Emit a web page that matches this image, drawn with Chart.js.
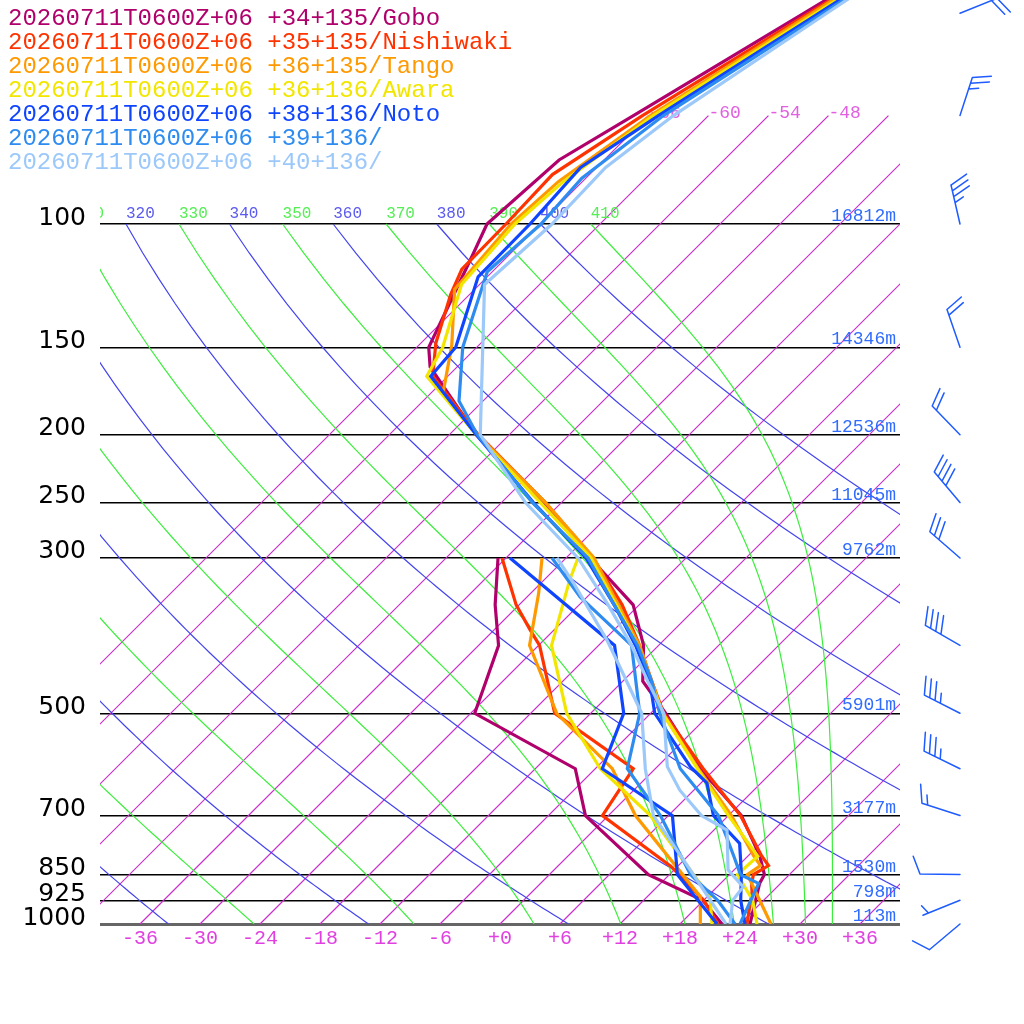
<!DOCTYPE html>
<html><head><meta charset="utf-8">
<script src="https://cdn.jsdelivr.net/npm/chart.js@4.4.1/dist/chart.umd.min.js"></script>
<style>html,body{margin:0;padding:0;background:#fff;}#wrap{width:1024px;height:1024px;}</style>
</head><body><div id="wrap"><canvas id="c" width="1024" height="1024"></canvas></div>
<script>
// ---------------- data ----------------
const stationLabels = ['20260711T0600Z+06 +34+135/Gobo','20260711T0600Z+06 +35+135/Nishiwaki','20260711T0600Z+06 +36+135/Tango','20260711T0600Z+06 +36+136/Awara','20260711T0600Z+06 +38+136/Noto','20260711T0600Z+06 +39+136/','20260711T0600Z+06 +40+136/'];
const stationColors = ['#b0006b','#ff3300','#ff9900','#f2e600','#0f45ff','#2e8cf0','#9cc8fa'];

const gobo_p  = [1000,875,850,800,700,600,500,450,400,350,300,250,200,160,150,111,100,81,70,50,30];
const gobo_t  = [25.0,21.9,21.5,19.2,13.3,4.5,-4.5,-10.0,-13.5,-18.6,-27.6,-37.8,-51.3,-62.7,-64.8,-69.6,-71.3,-70.5,-67.5,-60.7,-50.3];
const gobo_dp = [1000,925,850,700,600,500,400,350,300];
const gobo_td = [22.2,17.9,9.9,-2.3,-8.0,-23.6,-28.0,-32.4,-36.8];

const nish_p  = [1000,900,875,850,825,800,700,600,500,450,400,350,300,250,200,165,148,126,116,100,85,70,50,30];
const nish_t  = [24.7,22.0,21.1,20.4,21.0,19.4,13.2,4.8,-4.7,-9.1,-13.9,-19.7,-27.3,-37.6,-51.1,-61.5,-64.5,-67.9,-69.3,-69.4,-69.7,-66.6,-60.2,-50.4];
const nish_dp = [1000,925,828,700,600,500,400,380,350,300];
const nish_td = [21.8,18.0,11.4,-0.6,-2.2,-15.6,-23.9,-26.4,-30.3,-36.4];

const tango_p  = [1000,925,875,850,825,800,700,600,500,450,400,350,300,250,200,175,149,124,100,87,70,50,30];
const tango_t  = [27.1,23.6,21.1,19.8,20.2,18.6,12.3,4.3,-4.8,-9.1,-13.9,-20.1,-27.2,-37.6,-51.2,-58.7,-62.7,-68.0,-68.9,-68.4,-65.8,-59.9,-50.9];
const tango_dp = [1000,914,700,600,500,400,337,300];
const tango_td = [20.0,17.3,2.7,-4.3,-15.4,-24.9,-29.2,-32.4];

const awara_p  = [1000,925,850,800,700,600,500,450,400,350,300,250,200,165,150,122,100,87,70,50,30];
const awara_t  = [25.7,22.9,18.8,19.0,12.0,4.2,-4.8,-9.2,-14.1,-20.3,-27.5,-38.1,-51.3,-62.1,-63.4,-67.8,-68.5,-67.9,-65.5,-59.5,-50.4];
const awara_dp = [1000,915,700,600,500,400,323,300];
const awara_td = [21.2,18.3,4.2,-5.5,-14.4,-22.7,-27.4,-28.8];

const noto_p  = [1000,925,850,767,700,629,596,500,450,400,350,300,250,200,165,150,119,100,83,70,50,30];
const noto_t  = [24.5,21.7,19.2,15.9,10.5,6.6,3.3,-5.6,-9.3,-14.3,-20.5,-28.0,-38.8,-51.3,-61.7,-62.1,-66.9,-67.0,-67.6,-65.0,-59.2,-50.4];
const noto_dp = [1000,850,700,600,500,400,300];
const noto_td = [21.7,12.8,6.4,-5.3,-8.7,-16.4,-35.6];

const p39_p  = [1000,875,850,800,700,600,500,450,400,350,300,250,200,179,150,117,100,86,70,50,30];
const p39_t  = [24.0,21.8,19.1,16.6,11.0,2.5,-5.1,-9.1,-14.1,-20.5,-27.8,-38.9,-51.2,-56.4,-61.4,-66.5,-65.9,-66.4,-64.5,-58.8,-50.1];
const p39_dp = [1000,925,850,700,600,500,400,341,300];
const p39_td = [23.5,19.4,14.1,5.2,-2.8,-7.1,-14.7,-24.7,-31.4];

const p40_p  = [1000,925,885,837,734,700,644,596,500,450,400,350,300,250,200,122,100,83,70,50,30];
const p40_t  = [23.0,20.9,20.6,17.4,13.3,9.3,4.6,1.0,-4.7,-9.5,-14.7,-21.1,-28.8,-39.6,-50.9,-65.5,-64.8,-65.1,-63.5,-58.4,-50.6];
const p40_dp = [1000,850,700,600,500,420,393,326,300];
const p40_td = [22.6,14.4,4.5,-1.0,-6.9,-14.7,-17.7,-26.7,-30.9];

const pressureTicks = [100,150,200,250,300,500,700,850,925,1000];
const heightP = [100,150,200,250,300,500,700,850,925,1000];
const heightM = [16812,14346,12536,11045,9762,5901,3177,1530,798,113];
const tempTicks = [-36,-30,-24,-18,-12,-6,0,6,12,18,24,30,36];
const isotherms = [-66,-60,-54,-48,-42,-36,-30,-24,-18,-12,-6,0,6,12,18,24,30,36];
const dryAdiabats = [240,260,280,300,320,340,360,380,400];
const moistAdiabats = [250,270,290,310,330,350,370,390,410];
const windP   = [1000,925,850,700,600,500,400,300,250,200,150,100,70,50];
const windDir = [230,248,271,288,296,297,300,311,320,316,341,347,18,68];
const windKt  = [10,5,10,15,35,35,40,30,40,20,20,35,25,20];

// ---------------- helpers ----------------
const SKEW = 70;            // deg C shift per pressure decade
const P_TOP = 1000*Math.pow(10,-924/700);
const ISO_TOP = 70;
const skew = (T,p) => T + SKEW*Math.log10(1000/p);

function satMix(TK,p){const Tc=TK-273.15;const es=6.112*Math.exp(17.67*Tc/(Tc+243.5));if(es>=0.5*p)return null;return 622*es/(p-es);}
function thetaE(TK,p){const r=satMix(TK,p);if(r===null)return Infinity;return TK*Math.pow(1000/p,0.2854*(1-0.00028*r))*Math.exp((3.376/TK-0.00254)*r*(1+0.00081*r));}
function moistT(te,p){let lo=150,hi=340;for(let i=0;i<50;i++){const m=(lo+hi)/2;if(thetaE(m,p)>te)hi=m;else lo=m;}return (lo+hi)/2-273.15;}
const dryT = (th,p) => th*Math.pow(p/1000,0.2857)-273.15;

const series = [
  {tp:gobo_p,t:gobo_t,dp:gobo_dp,td:gobo_td},
  {tp:nish_p,t:nish_t,dp:nish_dp,td:nish_td},
  {tp:tango_p,t:tango_t,dp:tango_dp,td:tango_td},
  {tp:awara_p,t:awara_t,dp:awara_dp,td:awara_td},
  {tp:noto_p,t:noto_t,dp:noto_dp,td:noto_td},
  {tp:p39_p,t:p39_t,dp:p39_dp,td:p39_td},
  {tp:p40_p,t:p40_t,dp:p40_dp,td:p40_td}
];
const datasets = [];
series.forEach((s,i)=>{
  const common = {borderColor:stationColors[i],backgroundColor:stationColors[i],borderWidth:3.2,pointRadius:0,showLine:true,fill:false,tension:0,order:20-i};
  datasets.push(Object.assign({label:stationLabels[i]+' T',data:s.tp.map((p,k)=>({x:skew(s.t[k],p),y:p}))},common));
  datasets.push(Object.assign({label:stationLabels[i]+' Td',data:s.dp.map((p,k)=>({x:skew(s.td[k],p),y:p}))},common));
});

function drawBarb(ctx,bx,by,dir,spd){
  const a=dir*Math.PI/180, ux=Math.sin(a), uy=-Math.cos(a), L=40;
  const tx=bx+ux*L, ty=by+uy*L;
  ctx.beginPath(); ctx.moveTo(bx,by); ctx.lineTo(tx,ty);
  const th=Math.atan2(uy,ux)+68*Math.PI/180, fx=Math.cos(th), fy=Math.sin(th);
  let s=Math.round(spd/5)*5, pos=0; const step=6;
  while(s>=10){const px=tx-ux*pos,py=ty-uy*pos;ctx.moveTo(px,py);ctx.lineTo(px+fx*19,py+fy*19);pos+=step;s-=10;}
  if(s>=5){if(pos===0)pos=step;const px=tx-ux*pos,py=ty-uy*pos;ctx.moveTo(px,py);ctx.lineTo(px+fx*10,py+fy*10);}
  ctx.stroke();
}

const skewPlugin = {
  id:'skewBg',
  beforeDatasetsDraw(chart){
    const {ctx,chartArea:a,scales:{x:xs,y:ys}}=chart;
    const X=(T,p)=>xs.getPixelForValue(skew(T,p)), Y=p=>ys.getPixelForValue(p);
    ctx.save();
    ctx.beginPath(); ctx.rect(a.left,a.top,a.right-a.left,a.bottom-a.top); ctx.clip();
    ctx.lineWidth=1.2;
    ctx.strokeStyle='#cc2ccc';
    for(const T of isotherms){ctx.beginPath();ctx.moveTo(X(T,1000),Y(1000));ctx.lineTo(X(T,ISO_TOP),Y(ISO_TOP));ctx.stroke();}
    ctx.strokeStyle='#4444ee';
    for(const th of dryAdiabats){ctx.beginPath();for(let p=1000;p>=100;p-=10){const T=dryT(th,p);if(p===1000)ctx.moveTo(X(T,p),Y(p));else ctx.lineTo(X(T,p),Y(p));}ctx.stroke();}
    ctx.strokeStyle='#3cee3c';
    for(const te of moistAdiabats){ctx.beginPath();for(let p=1000;p>=100;p-=10){const T=moistT(te,p);if(p===1000)ctx.moveTo(X(T,p),Y(p));else ctx.lineTo(X(T,p),Y(p));}ctx.stroke();}
    ctx.font='16px "Liberation Mono"'; ctx.textAlign='left'; ctx.textBaseline='alphabetic';
    ctx.fillStyle='#5a5af0';
    for(const th of dryAdiabats){ctx.fillText(String(th),X(dryT(th,100),100),Y(100)-6);}
    ctx.fillStyle='#55ee55';
    for(const te of moistAdiabats){ctx.fillText(String(te),X(moistT(te,100),100),Y(100)-6);}
    ctx.font='18px "Liberation Mono"'; ctx.fillStyle='#e060e0';
    for(const T of isotherms){const lbl=(T>=0?'+':'')+T;const xt=X(T,ISO_TOP);const w=ctx.measureText(lbl).width;if(xt>=a.left&&xt+w<=a.right)ctx.fillText(lbl,xt,Y(ISO_TOP)+2);}
    ctx.restore();
    ctx.save();
    ctx.font='18px "Liberation Mono"'; ctx.textAlign='right'; ctx.textBaseline='alphabetic'; ctx.fillStyle='#2f6cff';
    heightP.forEach((p,i)=>ctx.fillText(heightM[i]+'m',a.right-4,Y(p)-3));
    ctx.restore();
  },
  afterDraw(chart){
    const {ctx,scales:{y:ys}}=chart;
    ctx.save();
    ctx.font='24px "Liberation Mono"'; ctx.textAlign='left'; ctx.textBaseline='alphabetic';
    stationLabels.forEach((t,i)=>{ctx.fillStyle=stationColors[i];ctx.fillText(t,8,25+24*i);});
    ctx.strokeStyle='#1f5cff'; ctx.lineWidth=1.5; ctx.lineCap='round';
    windP.forEach((p,i)=>drawBarb(ctx,960,ys.getPixelForValue(p),windDir[i],windKt[i]));
    ctx.restore();
  }
};

const zeroPad = s => { s.paddingTop=0; s.paddingBottom=0; s.paddingLeft=0; s.paddingRight=0; };

new Chart(document.getElementById('c'),{
  type:'scatter',
  data:{datasets},
  options:{
    responsive:false, animation:false, devicePixelRatio:1,
    layout:{padding:{left:0,right:124,top:0,bottom:0}},
    plugins:{legend:{display:false},tooltip:{enabled:false}},
    events:[],
    scales:{
      x:{type:'linear',min:-40,max:40,bounds:'data',
        afterBuildTicks:s=>{s.ticks=tempTicks.map(v=>({value:v}));s.min=-40;s.max=40;},
        afterFit:s=>{s.height=100;zeroPad(s);},
        grid:{display:false,drawTicks:false},border:{display:false},
        ticks:{autoSkip:false,maxRotation:0,padding:3,color:'#e040e0',font:{family:'Liberation Mono',size:20},callback:v=>(v>=0?'+':'')+v}},
      y:{type:'logarithmic',reverse:true,min:P_TOP,max:1000,bounds:'data',
        afterBuildTicks:s=>{s.ticks=pressureTicks.map(v=>({value:v}));s.min=P_TOP;s.max=1000;},
        afterFit:s=>{s.width=100;zeroPad(s);},
        border:{display:false},
        grid:{drawTicks:false,color:c=>c.tick&&c.tick.value===1000?'#666':'#000',lineWidth:c=>c.tick&&c.tick.value===1000?3:1.5},
        ticks:{autoSkip:false,padding:14,labelOffset:-6,color:'#000',font:{family:'DejaVu Sans',size:25},callback:v=>String(v)}}
    }
  },
  plugins:[skewPlugin]
});
</script></body></html>
